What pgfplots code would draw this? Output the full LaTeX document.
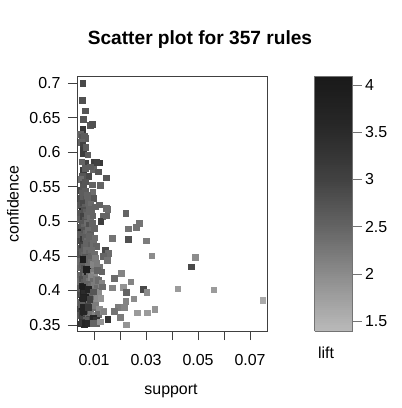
\documentclass[border=0pt]{standalone}
\usepackage{fontspec}
\setmainfont{Liberation Sans}
\usepackage{pgfplots}
\usepackage{pgfplotstable}
\pgfplotsset{compat=1.18}
\pgfplotstableread{
x y l
0.0057 0.700 2.9
0.0054 0.675 2.8
0.0065 0.660 2.7
0.0059 0.648 2.7
0.0057 0.633 3.2
0.0085 0.639 2.7
0.0094 0.640 2.8
0.0048 0.626 2.5
0.0052 0.622 2.7
0.0062 0.624 2.6
0.0068 0.620 2.6
0.0050 0.614 2.5
0.0057 0.610 3.0
0.0058 0.603 3.1
0.0068 0.607 2.6
0.0056 0.598 3.1
0.0076 0.596 2.6
0.0065 0.5845 3.0
0.0101 0.586 3.1
0.0120 0.5845 3.2
0.0110 0.585 3.0
0.0053 0.586 2.5
0.0059 0.574 3.1
0.0065 0.577 2.6
0.0097 0.575 2.5
0.0085 0.579 2.6
0.0078 0.5653 2.9
0.0146 0.563 2.7
0.0054 0.566 2.7
0.0117 0.5716 2.7
0.0093 0.553 2.5
0.0123 0.552 2.5
0.0049 0.5606 2.4
0.0056 0.554 2.8
0.0065 0.557 2.7
0.0049 0.545 2.9
0.0058 0.549 2.7
0.0052 0.541 2.6
0.0066 0.544 2.6
0.0095 0.5426 2.4
0.0050 0.533 2.8
0.0059 0.536 2.6
0.0068 0.532 2.7
0.0083 0.531 2.9
0.0097 0.533 2.7
0.0074 0.538 2.5
0.0048 0.523 2.7
0.0057 0.527 2.9
0.0066 0.521 2.6
0.0076 0.528 2.5
0.0088 0.525 2.4
0.0120 0.524 2.5
0.0105 0.521 2.5
0.0053 0.5147 3.7
0.0046 0.512 2.7
0.0062 0.517 2.8
0.0071 0.513 2.6
0.0080 0.518 2.5
0.0090 0.514 2.5
0.0146 0.5186 2.4
0.0153 0.5172 2.4
0.0048 0.503 2.6
0.0056 0.507 3.0
0.0065 0.502 2.7
0.0074 0.509 2.5
0.0085 0.505 2.4
0.0095 0.508 2.5
0.0133 0.5075 2.5
0.0147 0.508 2.5
0.0047 0.492 2.8
0.0055 0.496 2.7
0.0063 0.491 2.5
0.0072 0.498 2.4
0.0081 0.494 2.8
0.0092 0.497 2.5
0.0126 0.5003 3.1
0.0050 0.4848 3.7
0.0046 0.481 2.6
0.0060 0.488 2.7
0.0068 0.483 2.5
0.0077 0.487 2.4
0.0086 0.482 2.6
0.0101 0.4897 2.5
0.0048 0.472 2.9
0.0057 0.4738 3.2
0.0064 0.477 2.6
0.0073 0.471 2.4
0.0082 0.478 2.5
0.0092 0.474 2.5
0.0103 0.476 2.4
0.0047 0.462 2.7
0.0054 0.466 3.0
0.0062 0.463 2.6
0.0070 0.468 2.5
0.0078 0.461 2.5
0.0087 0.465 2.6
0.0097 0.468 2.4
0.0108 0.464 2.5
0.0048 0.452 2.8
0.0055 0.456 2.6
0.0063 0.451 2.5
0.0071 0.458 2.4
0.0080 0.454 2.5
0.0089 0.459 2.4
0.0100 0.453 2.4
0.0142 0.4584 2.9
0.0155 0.4536 2.4
0.0046 0.442 2.4
0.0057 0.445 4.0
0.0064 0.448 2.7
0.0072 0.443 2.5
0.0081 0.447 2.5
0.0090 0.441 2.4
0.0104 0.446 2.2
0.0136 0.4497 2.5
0.0149 0.443 2.4
0.0047 0.433 2.5
0.0055 0.437 2.6
0.0063 0.432 2.8
0.0069 0.430 3.8
0.0078 0.436 2.4
0.0087 0.431 2.3
0.0097 0.438 2.1
0.0110 0.439 2.2
0.0122 0.434 2.3
0.0048 0.422 2.5
0.0056 0.426 2.7
0.0064 0.421 2.4
0.0073 0.428 3.8
0.0082 0.424 2.4
0.0091 0.427 2.2
0.0101 0.423 2.0
0.0113 0.429 2.5
0.0130 0.427 2.5
0.0046 0.413 2.4
0.0053 0.417 2.8
0.0061 0.412 2.6
0.0070 0.418 2.5
0.0079 0.414 2.3
0.0088 0.419 2.1
0.0098 0.413 2.4
0.0108 0.416 2.2
0.0118 0.411 2.5
0.0047 0.403 2.7
0.0055 0.407 3.7
0.0063 0.404 3.0
0.0072 0.409 2.5
0.0080 0.402 3.6
0.0090 0.406 2.4
0.0100 0.408 2.2
0.0112 0.404 2.4
0.0125 0.409 2.1
0.0048 0.394 2.9
0.0056 0.398 3.8
0.0065 0.392 3.1
0.0075 0.396 2.6
0.0085 0.391 2.5
0.0095 0.399 2.3
0.0106 0.393 2.1
0.0117 0.397 2.0
0.0060 0.400 3.5
0.0046 0.383 2.5
0.0054 0.386 3.6
0.0062 0.381 3.2
0.0071 0.389 2.7
0.0079 0.384 2.4
0.0088 0.387 2.4
0.0098 0.382 2.1
0.0110 0.388 2.0
0.0066 0.390 3.8
0.0047 0.372 3.0
0.0055 0.377 3.8
0.0064 0.374 3.4
0.0074 0.378 2.9
0.0082 0.372 2.5
0.0093 0.376 2.4
0.0105 0.379 2.2
0.0050 0.380 2.6
0.0120 0.373 2.0
0.0046 0.364 2.7
0.0053 0.368 3.1
0.0061 0.362 3.6
0.0070 0.366 2.8
0.0078 0.361 2.4
0.0088 0.368 2.3
0.0102 0.364 2.1
0.0058 0.370 3.7
0.0115 0.366 2.4
0.0048 0.352 3.3
0.0055 0.356 3.8
0.0063 0.351 3.5
0.0072 0.354 3.9
0.0081 0.358 2.9
0.0090 0.353 2.7
0.0098 0.356 3.6
0.0110 0.352 2.5
0.0052 0.359 3.0
0.0068 0.357 2.6
0.0222 0.512 2.5
0.0147 0.508 2.5
0.0274 0.497 2.3
0.0262 0.491 2.3
0.0232 0.489 2.3
0.0170 0.4757 2.3
0.0232 0.4738 2.8
0.0300 0.472 2.2
0.0322 0.450 2.0
0.0488 0.448 2.0
0.0474 0.4343 2.9
0.0151 0.444 2.3
0.0130 0.427 2.5
0.0204 0.4247 2.1
0.0177 0.4175 2.4
0.0241 0.4127 2.1
0.0117 0.415 2.4
0.0130 0.4102 2.1
0.0132 0.4054 2.4
0.0170 0.4039 2.1
0.0213 0.4045 1.9
0.0223 0.3973 2.5
0.0288 0.402 2.9
0.0303 0.397 2.0
0.0422 0.4025 1.8
0.0560 0.401 1.8
0.0749 0.386 1.6
0.0126 0.3886 1.9
0.0083 0.3876 3.0
0.0057 0.3886 3.7
0.0253 0.388 2.0
0.0222 0.3847 2.1
0.0193 0.3756 2.2
0.0217 0.3756 2.1
0.0333 0.373 1.9
0.0267 0.3678 1.8
0.0305 0.3678 1.8
0.0136 0.3702 2.0
0.0177 0.3698 2.3
0.0138 0.3694 2.1
0.0200 0.3611 2.2
0.0153 0.3582 3.3
0.0097 0.3597 3.6
0.0108 0.3572 3.3
0.0053 0.3539 3.2
0.0065 0.3525 3.7
0.0078 0.3525 3.6
0.0097 0.3525 2.5
0.0123 0.3548 1.9
0.0223 0.3505 1.9
0.0057 0.4054 3.9
0.0078 0.4016 3.7
0.0097 0.3982 2.7
0.0057 0.3756 3.7
0.0078 0.3760 3.2
0.0057 0.4454 4.0
0.0069 0.4305 3.9
0.0110 0.4392 2.2
0.0104 0.4464 2.2
}\rules
\pgfplotsset{
  colormap={liftgray}{rgb255=(186,186,186) rgb255=(145,145,145) rgb255=(102,102,102) rgb255=(65,65,65) rgb255=(40,40,40) rgb255=(25,25,25)}
}
\begin{document}
\begin{tikzpicture}
\path[use as bounding box] (0,0) rectangle (402bp,408bp);
\begin{axis}[
  at={(77bp,77bp)}, anchor=south west,
  scale only axis, width=190bp, height=255bp,
  xmin=0.00346, xmax=0.0765, ymin=0.3413, ymax=0.7101,
  scaled x ticks=false, scaled y ticks=false,
  axis line style={draw=black!75, line width=0.6bp},
  xtick={0.01,0.02,0.03,0.04,0.05,0.06,0.07},
  xticklabels={0.01,,0.03,,0.05,,0.07},
  ytick={0.35,0.4,0.45,0.5,0.55,0.6,0.65,0.7},
  yticklabels={0.35,0.4,0.45,0.5,0.55,0.6,0.65,0.7},
  xtick pos=bottom, ytick pos=left,
  tick align=outside, major tick length=9bp,
  tick style={draw=black!75, line width=0.6bp},
  /pgf/number format/assume math mode=true,
  ticklabel style={font=\fontsize{16}{19}\selectfont},
  xticklabel style={yshift=-11bp},
  yticklabel style={xshift=-4bp},
  colormap name=liftgray,
  point meta min=1.395, point meta max=4.095,
  colorbar sampled,
  colorbar style={
    at={(parent axis.south east)}, anchor=south west, xshift=39bp,
    scale only axis, width=38bp, height=255bp,
    samples=120,
    ytick={1.5,2,2.5,3,3.5,4},
    yticklabels={1.5,2,2.5,3,3.5,4},
    ytick pos=right, yticklabel pos=right,
    tick align=outside, major tick length=9bp,
    tick style={draw=black!55, line width=0.6bp},
    axis line style={draw=black!55, line width=0.6bp},
    yticklabel style={font=\fontsize{16}{19}\selectfont, xshift=0bp},
    /pgf/number format/assume math mode=true,
  },
]
\addplot[scatter, only marks, mark=square*, mark size=2.8bp, point meta=explicit,
  scatter/use mapped color={draw=mapped color, fill=mapped color}]
  table[x=x, y=y, meta=l] {\rules};
\end{axis}
\node[font=\fontsize{19.2}{23}\selectfont\bfseries] at (200bp,368bp) {Scatter plot for 357 rules};
\node[font=\fontsize{16}{19}\selectfont] at (171bp,17bp) {support};
\node[font=\fontsize{16}{19}\selectfont, rotate=90] at (13bp,204bp) {confidence};
\node[font=\fontsize{16}{19}\selectfont] at (326bp,55bp) {lift};
\end{tikzpicture}
\end{document}
